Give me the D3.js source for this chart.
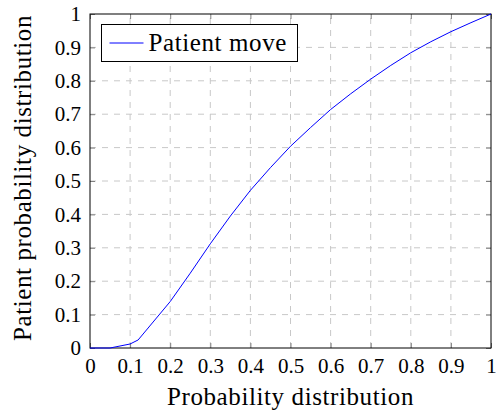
<!DOCTYPE html>
<html>
<head>
<meta charset="utf-8">
<script src="https://cdn.jsdelivr.net/npm/d3@7"></script>
<style>
  body { margin: 0; background: #fff; }
</style>
</head>
<body>
<div id="chart"></div>
<script>
// Data
const xValues = [0, 0.05, 0.1, 0.12, 0.2, 0.25, 0.3, 0.35, 0.4, 0.45, 0.5, 0.55, 0.6, 0.65, 0.7, 0.75, 0.8, 0.85, 0.9, 0.95, 1];
const moveValues = [0, 0, 0.012, 0.024, 0.139, 0.224, 0.312, 0.395, 0.472, 0.54, 0.604, 0.66, 0.714, 0.761, 0.805, 0.846, 0.884, 0.917, 0.947, 0.974, 1];
const tickValues = [0, 0.1, 0.2, 0.3, 0.4, 0.5, 0.6, 0.7, 0.8, 0.9, 1];
const seriesName = "Patient move";
const xTitle = "Probability distribution";
const yTitle = "Patient probability distribution";

const serif = '"Liberation Serif"';

function init() {
    const width = 497, height = 411;
    const margin = {left: 90, right: 6, top: 14, bottom: 63};

    const svg = d3.select("#chart").append("svg")
        .attr("width", width)
        .attr("height", height);

    const x = d3.scaleLinear().domain([0, 1]).range([margin.left, width - margin.right]);
    const y = d3.scaleLinear().domain([0, 1]).range([height - margin.bottom, margin.top]);

    const fmt = d => String(+d.toFixed(1));

    // dashed grid
    svg.append("g").selectAll("line")
        .data(tickValues.slice(1, -1)).enter().append("line")
        .attr("x1", d => x(d)).attr("x2", d => x(d))
        .attr("y1", y(0)).attr("y2", y(1))
        .attr("stroke", "#c8c8c8").attr("stroke-dasharray", "6,6");
    svg.append("g").selectAll("line")
        .data(tickValues.slice(1, -1)).enter().append("line")
        .attr("x1", x(0)).attr("x2", x(1))
        .attr("y1", d => y(d)).attr("y2", d => y(d))
        .attr("stroke", "#c8c8c8").attr("stroke-dasharray", "6,6");

    // axes, ticks pointing inwards on every side
    const tick = 5;
    const bottom = svg.append("g").attr("transform", `translate(0,${y(0)})`)
        .call(d3.axisBottom(x).tickValues(tickValues).tickSizeInner(-tick).tickSizeOuter(0).tickPadding(10).tickFormat(fmt));
    const left = svg.append("g").attr("transform", `translate(${x(0)},0)`)
        .call(d3.axisLeft(y).tickValues(tickValues).tickSizeInner(-tick).tickSizeOuter(0).tickPadding(9).tickFormat(fmt));
    const top = svg.append("g").attr("transform", `translate(0,${y(1)})`)
        .call(d3.axisTop(x).tickValues(tickValues).tickSizeInner(-tick).tickSizeOuter(0).tickFormat(""));
    const right = svg.append("g").attr("transform", `translate(${x(1)},0)`)
        .call(d3.axisRight(y).tickValues(tickValues).tickSizeInner(-tick).tickSizeOuter(0).tickFormat(""));

    [bottom, left, top, right].forEach(g => {
        g.select(".domain").remove();
        g.selectAll(".tick line").attr("stroke", "#808080");
        g.selectAll(".tick text").attr("fill", "#000")
            .style("font-family", serif).style("font-size", "21px");
    });

    // frame
    svg.append("rect")
        .attr("x", x(0)).attr("y", y(1))
        .attr("width", x(1) - x(0)).attr("height", y(0) - y(1))
        .attr("fill", "none").attr("stroke", "#000").attr("stroke-width", 1);

    // the series
    const line = d3.line().x((d, i) => x(xValues[i])).y(d => y(d));
    svg.append("path")
        .datum(moveValues)
        .attr("d", line)
        .attr("fill", "none")
        .attr("stroke", "#0000ff")
        .attr("stroke-width", 1);

    // legend
    const lg = svg.append("g").attr("transform", "translate(101.5,24.5)");
    lg.append("rect").attr("width", 196).attr("height", 37)
        .attr("fill", "#fff").attr("stroke", "#000");
    lg.append("line").attr("x1", 8).attr("x2", 42).attr("y1", 18.5).attr("y2", 18.5)
        .attr("stroke", "#0000ff");
    lg.append("text").attr("x", 47).attr("y", 26.5)
        .style("font-family", serif).style("font-size", "25px")
        .style("letter-spacing", "0.6px").text(seriesName);

    // axis titles
    svg.append("text")
        .attr("x", (x(0) + x(1)) / 2).attr("y", 405)
        .attr("text-anchor", "middle")
        .style("font-family", serif).style("font-size", "25px")
        .style("letter-spacing", "0.6px").text(xTitle);
    svg.append("text")
        .attr("transform", "translate(31,178) rotate(-90)")
        .attr("text-anchor", "middle")
        .style("font-family", serif).style("font-size", "25px")
        .style("letter-spacing", "0.6px").text(yTitle);
}

window.onload = init;
</script>
</body>
</html>
